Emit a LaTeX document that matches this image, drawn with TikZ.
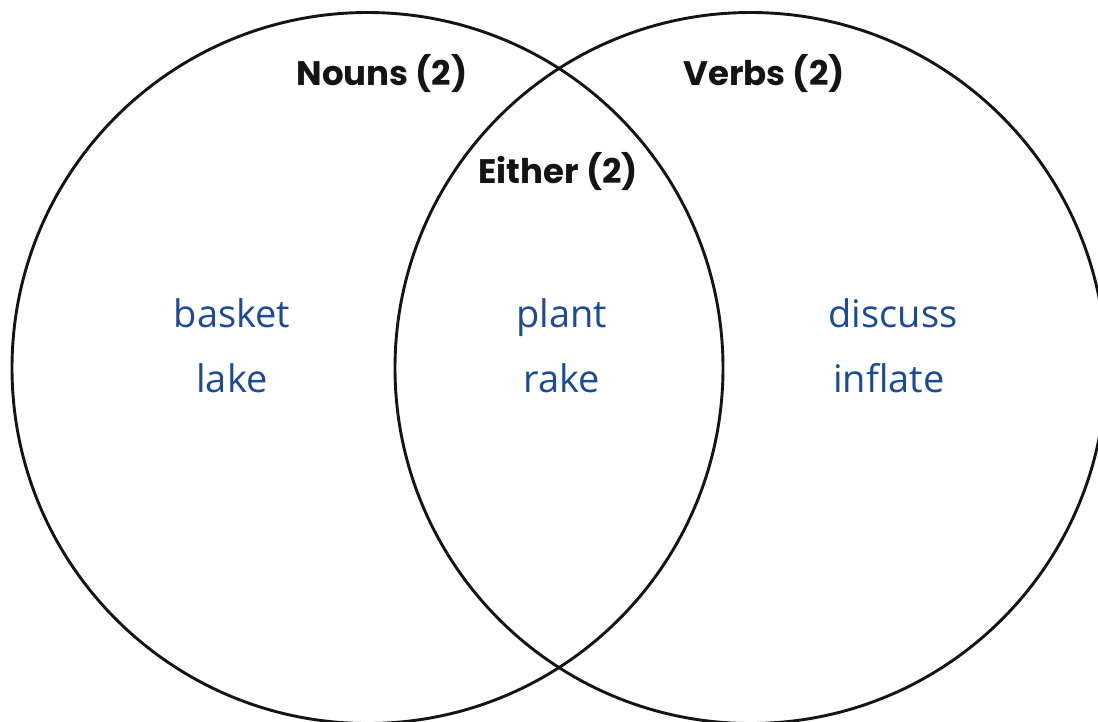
\documentclass[tikz,border=0pt]{standalone}
\usepackage{fontspec}
\newfontfamily\headfont{Poppins}
\newfontfamily\wordfont{Open Sans}
\definecolor{wordblue}{RGB}{28,74,150}
\definecolor{ink}{RGB}{20,20,20}
\begin{document}
\begin{tikzpicture}[x=1pt,y=-1pt,
  setcircle/.style={circle, draw=ink, line width=2.9pt, inner sep=0pt, minimum size=711pt},
  heading/.style={anchor=base, inner sep=0pt, text=ink, font=\headfont\bfseries\fontsize{34}{40}\selectfont},
  word/.style={anchor=base, inner sep=0pt, text=wordblue, font=\wordfont\fontsize{38}{44}\selectfont}]
\useasboundingbox (0,0) rectangle (1098,721);
\clip (0,0) rectangle (1098,721);
\fill[white] (0,0) rectangle (1098,721);
\node[setcircle] (nouns) at (367.5,368) {};
\node[setcircle] (verbs) at (750.5,368) {};
\node[heading] (hn) at (382,85) {Nouns (2)};
\node[heading] (hv) at (764,85) {Verbs (2)};
\node[heading] (he) at (558,183) {Either (2)};
\node[word] (w1) at (232,327) {basket};
\node[word] (w2) at (232,392) {lake};
\node[word] (w3) at (562,327) {plant};
\node[word] (w4) at (562,392) {rake};
\node[word] (w5) at (893,327) {discuss};
\node[word] (w6) at (889,392) {inflate};
\end{tikzpicture}
\end{document}
